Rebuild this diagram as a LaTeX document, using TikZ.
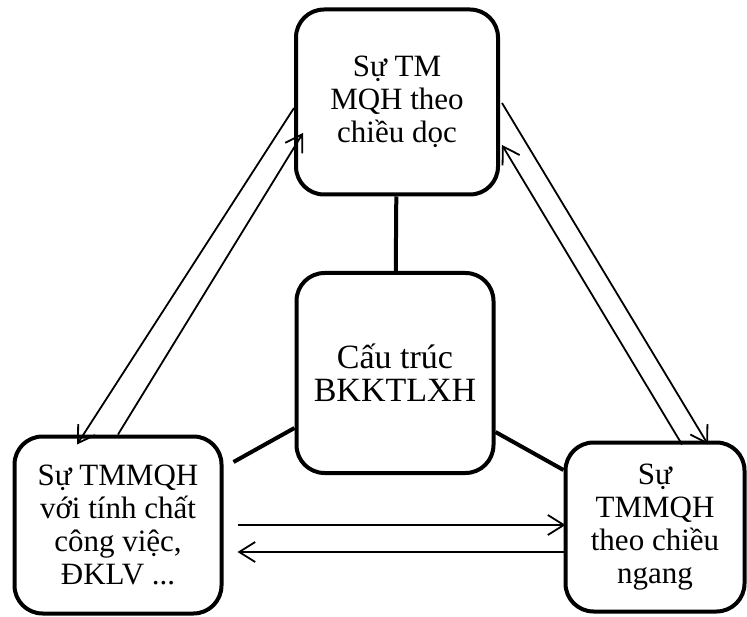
\documentclass[tikz,border=0pt]{standalone}
\usepackage{fontspec}
\setmainfont{Liberation Serif}
\usetikzlibrary{positioning,arrows.meta}

\begin{document}
\begin{tikzpicture}[
    x=1pt, y=-1pt,
    box/.style={rectangle, rounded corners=28pt, draw=black, line width=4pt, inner sep=0pt, align=center, font=\fontsize{31}{33}\selectfont},
    link/.style={line width=4pt},
    arrow/.style={-{Straight Barb[length=16pt,width=20pt]}, line width=1.8pt}
]
\useasboundingbox (0,0) rectangle (747,617);

% Nodes
\node[box, minimum width=202pt, minimum height=185pt] (vert) at (397,102) {Sự TM\\MQH theo\\chiều dọc};
\node[box, minimum width=197pt, minimum height=200pt, font=\fontsize{34}{33}\selectfont] (core) at (395,373) {Cấu trúc\\BKKTLXH};
\node[box, minimum width=207pt, minimum height=177pt] (work) at (118,525) {Sự TMMQH\\với tính chất\\công việc,\\ĐKLV ...};
\node[box, minimum width=179pt, minimum height=169pt] (horiz) at (655,527) {Sự\\TMMQH\\theo chiều\\ngang};

% Links
\draw[link] (vert) -- (core);
\draw[link] ([yshift=-55pt]core.west) -- ([xshift=10pt,yshift=63pt]work.east);
\draw[link] ([yshift=-59pt]core.east) -- ([yshift=57pt]horiz.west);

% Arrows
\draw[arrow] ([yshift=-6pt]vert.west) -- ([xshift=-41pt,yshift=-10pt]work.north);
\draw[arrow] (work.north) -- ([xshift=9pt,yshift=-31pt]vert.west);
\draw[arrow] ([xshift=2pt,yshift=-1pt]vert.east) -- ([xshift=53pt,yshift=-4pt]horiz.north);
\draw[arrow] ([xshift=27pt,yshift=-4pt]horiz.north) -- ([xshift=2pt,yshift=-43pt]vert.east);
\draw[arrow] ([xshift=14pt]work.east) -- ([xshift=2pt,yshift=2pt]horiz.west);
\draw[arrow] ([xshift=2pt,yshift=-25pt]horiz.west) -- ([xshift=14pt,yshift=-27pt]work.east);

\end{tikzpicture}
\end{document}
